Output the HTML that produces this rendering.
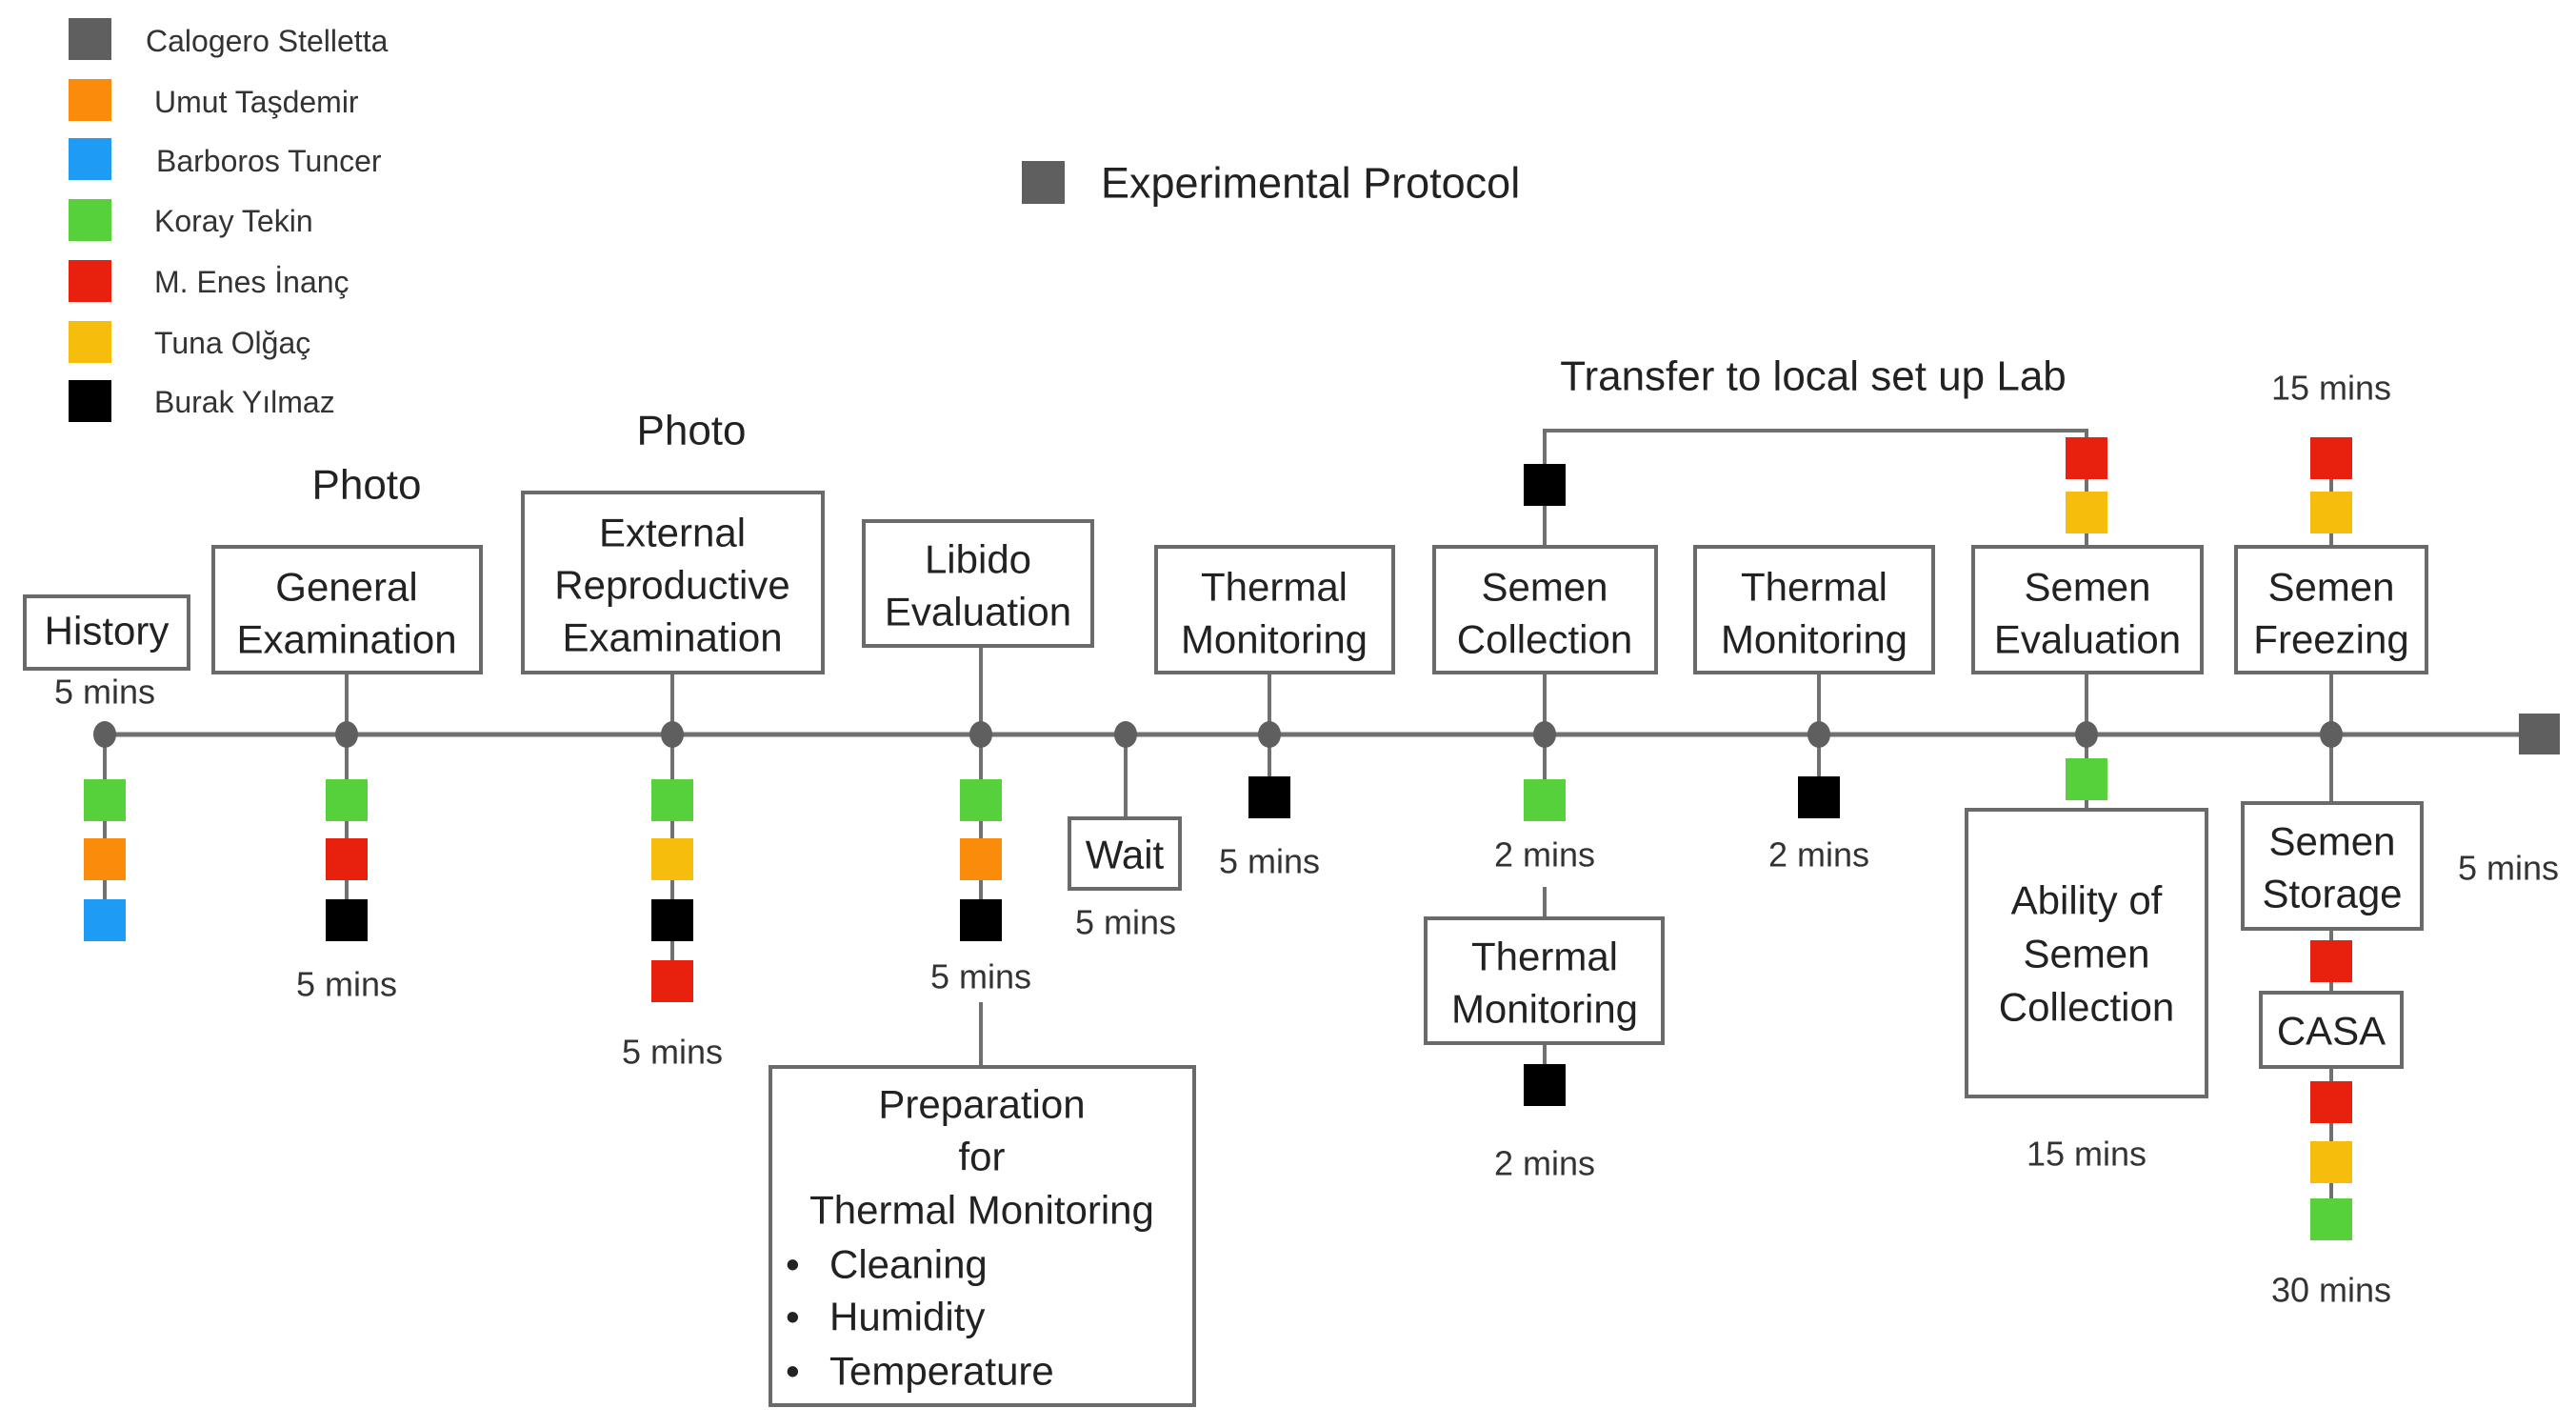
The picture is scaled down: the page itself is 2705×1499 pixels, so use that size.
<!DOCTYPE html>
<html><head><meta charset="utf-8"><style>
html,body{margin:0;padding:0;background:#fff;}
svg{display:block;font-family:"Liberation Sans",Arial,sans-serif;}
</style></head><body>
<svg width="2705" height="1499" viewBox="0 0 2705 1499" xmlns="http://www.w3.org/2000/svg">
<rect width="2705" height="1499" fill="#fff"/>
<g font-size="32" fill="#333" dominant-baseline="central">
<rect x="72" y="19" width="45" height="44" fill="#5f5f5f"/><text x="153" y="43">Calogero Stelletta</text>
<rect x="72" y="83" width="45" height="44" fill="#fb8c0b"/><text x="162" y="107">Umut Taşdemir</text>
<rect x="72" y="145" width="45" height="44" fill="#1e9bf5"/><text x="164" y="169">Barboros Tuncer</text>
<rect x="72" y="209" width="45" height="44" fill="#56d03b"/><text x="162" y="232">Koray Tekin</text>
<rect x="72" y="273" width="45" height="44" fill="#e8210f"/><text x="162" y="296">M. Enes İnanç</text>
<rect x="72" y="337" width="45" height="44" fill="#f6bd0c"/><text x="162" y="360">Tuna Olğaç</text>
<rect x="72" y="399" width="45" height="44" fill="#000"/><text x="162" y="422">Burak Yılmaz</text>
</g>
<rect x="1073" y="169" width="45" height="45" fill="#5f5f5f"/>
<text x="1156" y="192" font-size="45" fill="#222" dominant-baseline="central">Experimental Protocol</text>

<g stroke="#707070" stroke-width="4" fill="none">
<line x1="110" y1="771" x2="2648" y2="771" stroke-width="5"/>
<line x1="110" y1="771" x2="110" y2="966"/>
<line x1="364" y1="706" x2="364" y2="966"/>
<line x1="706" y1="706" x2="706" y2="1030"/>
<line x1="1030" y1="678" x2="1030" y2="966"/>
<line x1="1030" y1="1052" x2="1030" y2="1120"/>
<line x1="1182" y1="771" x2="1182" y2="859"/>
<line x1="1333" y1="706" x2="1333" y2="837"/>
<polyline points="1622,574 1622,452 2191,452 2191,574"/>
<line x1="1622" y1="706" x2="1622" y2="840"/>
<line x1="1622" y1="931" x2="1622" y2="964"/>
<line x1="1622" y1="1095" x2="1622" y2="1139"/>
<line x1="1910" y1="706" x2="1910" y2="837"/>
<line x1="2191" y1="706" x2="2191" y2="850"/>
<line x1="2448" y1="481" x2="2448" y2="574"/>
<line x1="2448" y1="706" x2="2448" y2="843"/>
<line x1="2448" y1="975" x2="2448" y2="1280"/>
</g>
<rect x="2645" y="749" width="43" height="43" fill="#5f5f5f"/>
<g fill="#5f5f5f">
<ellipse cx="110" cy="771" rx="12" ry="14"/><ellipse cx="364" cy="771" rx="12" ry="14"/>
<ellipse cx="706" cy="771" rx="12" ry="14"/><ellipse cx="1030" cy="771" rx="12" ry="14"/>
<ellipse cx="1182" cy="771" rx="12" ry="14"/><ellipse cx="1333" cy="771" rx="12" ry="14"/>
<ellipse cx="1622" cy="771" rx="12" ry="14"/><ellipse cx="1910" cy="771" rx="12" ry="14"/>
<ellipse cx="2191" cy="771" rx="12" ry="14"/><ellipse cx="2448" cy="771" rx="12" ry="14"/>
</g>

<g fill="#fff" stroke="#6a6a6a" stroke-width="4">
<rect x="26" y="626" width="172" height="76"/>
<rect x="224" y="574" width="281" height="132"/>
<rect x="549" y="517" width="315" height="189"/>
<rect x="907" y="547" width="240" height="131"/>
<rect x="1214" y="574" width="249" height="132"/>
<rect x="1506" y="574" width="233" height="132"/>
<rect x="1780" y="574" width="250" height="132"/>
<rect x="2072" y="574" width="240" height="132"/>
<rect x="2348" y="574" width="200" height="132"/>
<rect x="1123" y="859" width="116" height="74"/>
<rect x="809" y="1120" width="445" height="355"/>
<rect x="1497" y="964" width="249" height="131"/>
<rect x="2065" y="850" width="252" height="301"/>
<rect x="2355" y="843" width="188" height="132"/>
<rect x="2374" y="1042" width="148" height="78"/>
</g>

<g>
<rect x="88" y="818" width="44" height="44" fill="#56d03b"/>
<rect x="88" y="880" width="44" height="44" fill="#fb8c0b"/>
<rect x="88" y="944" width="44" height="44" fill="#1e9bf5"/>
<rect x="342" y="818" width="44" height="44" fill="#56d03b"/>
<rect x="342" y="880" width="44" height="44" fill="#e8210f"/>
<rect x="342" y="944" width="44" height="44" fill="#000"/>
<rect x="684" y="818" width="44" height="44" fill="#56d03b"/>
<rect x="684" y="880" width="44" height="44" fill="#f6bd0c"/>
<rect x="684" y="944" width="44" height="44" fill="#000"/>
<rect x="684" y="1008" width="44" height="44" fill="#e8210f"/>
<rect x="1008" y="818" width="44" height="44" fill="#56d03b"/>
<rect x="1008" y="880" width="44" height="44" fill="#fb8c0b"/>
<rect x="1008" y="944" width="44" height="44" fill="#000"/>
<rect x="1311" y="815" width="44" height="44" fill="#000"/>
<rect x="1600" y="487" width="44" height="44" fill="#000"/>
<rect x="1600" y="818" width="44" height="44" fill="#56d03b"/>
<rect x="1600" y="1117" width="44" height="44" fill="#000"/>
<rect x="1888" y="815" width="44" height="44" fill="#000"/>
<rect x="2169" y="459" width="44" height="44" fill="#e8210f"/>
<rect x="2169" y="516" width="44" height="44" fill="#f6bd0c"/>
<rect x="2169" y="796" width="44" height="44" fill="#56d03b"/>
<rect x="2426" y="459" width="44" height="44" fill="#e8210f"/>
<rect x="2426" y="516" width="44" height="44" fill="#f6bd0c"/>
<rect x="2426" y="987" width="44" height="44" fill="#e8210f"/>
<rect x="2426" y="1135" width="44" height="44" fill="#e8210f"/>
<rect x="2426" y="1198" width="44" height="44" fill="#f6bd0c"/>
<rect x="2426" y="1258" width="44" height="44" fill="#56d03b"/>
</g>

<g font-size="42" fill="#222" text-anchor="middle" dominant-baseline="central">
<text x="112" y="662">History</text>
<text x="364" y="616">General</text><text x="364" y="671">Examination</text>
<text x="706" y="559">External</text><text x="706" y="614">Reproductive</text><text x="706" y="669">Examination</text>
<text x="1027" y="587">Libido</text><text x="1027" y="642">Evaluation</text>
<text x="1338" y="616">Thermal</text><text x="1338" y="671">Monitoring</text>
<text x="1622" y="616">Semen</text><text x="1622" y="671">Collection</text>
<text x="1905" y="616">Thermal</text><text x="1905" y="671">Monitoring</text>
<text x="2192" y="616">Semen</text><text x="2192" y="671">Evaluation</text>
<text x="2448" y="616">Semen</text><text x="2448" y="671">Freezing</text>
<text x="1181" y="897">Wait</text>
<text x="1031" y="1159">Preparation</text><text x="1031" y="1214">for</text><text x="1031" y="1270">Thermal Monitoring</text>
<text x="1622" y="1004">Thermal</text><text x="1622" y="1059">Monitoring</text>
<text x="2191" y="945">Ability of</text><text x="2191" y="1001">Semen</text><text x="2191" y="1057">Collection</text>
<text x="2449" y="883">Semen</text><text x="2449" y="938">Storage</text>
<text x="2448" y="1082">CASA</text>
</g>
<g font-size="42" fill="#222" dominant-baseline="central">
<text x="825" y="1327">•</text><text x="871" y="1327">Cleaning</text>
<text x="825" y="1382">•</text><text x="871" y="1382">Humidity</text>
<text x="825" y="1439">•</text><text x="871" y="1439">Temperature</text>
</g>

<g font-size="36" fill="#333" text-anchor="middle" dominant-baseline="central">
<text x="110" y="726">5 mins</text>
<text x="364" y="1033">5 mins</text>
<text x="706" y="1104">5 mins</text>
<text x="1030" y="1025">5 mins</text>
<text x="1182" y="968">5 mins</text>
<text x="1333" y="904">5 mins</text>
<text x="1622" y="897">2 mins</text>
<text x="1622" y="1221">2 mins</text>
<text x="1910" y="897">2 mins</text>
<text x="2191" y="1211">15 mins</text>
<text x="2448" y="407">15 mins</text>
<text x="2634" y="911">5 mins</text>
<text x="2448" y="1354">30 mins</text>
</g>
<g font-size="44" fill="#222" text-anchor="middle" dominant-baseline="central">
<text x="385" y="509">Photo</text>
<text x="726" y="452">Photo</text>
<text x="1904" y="395">Transfer to local set up Lab</text>
</g>
</svg>
</body></html>
